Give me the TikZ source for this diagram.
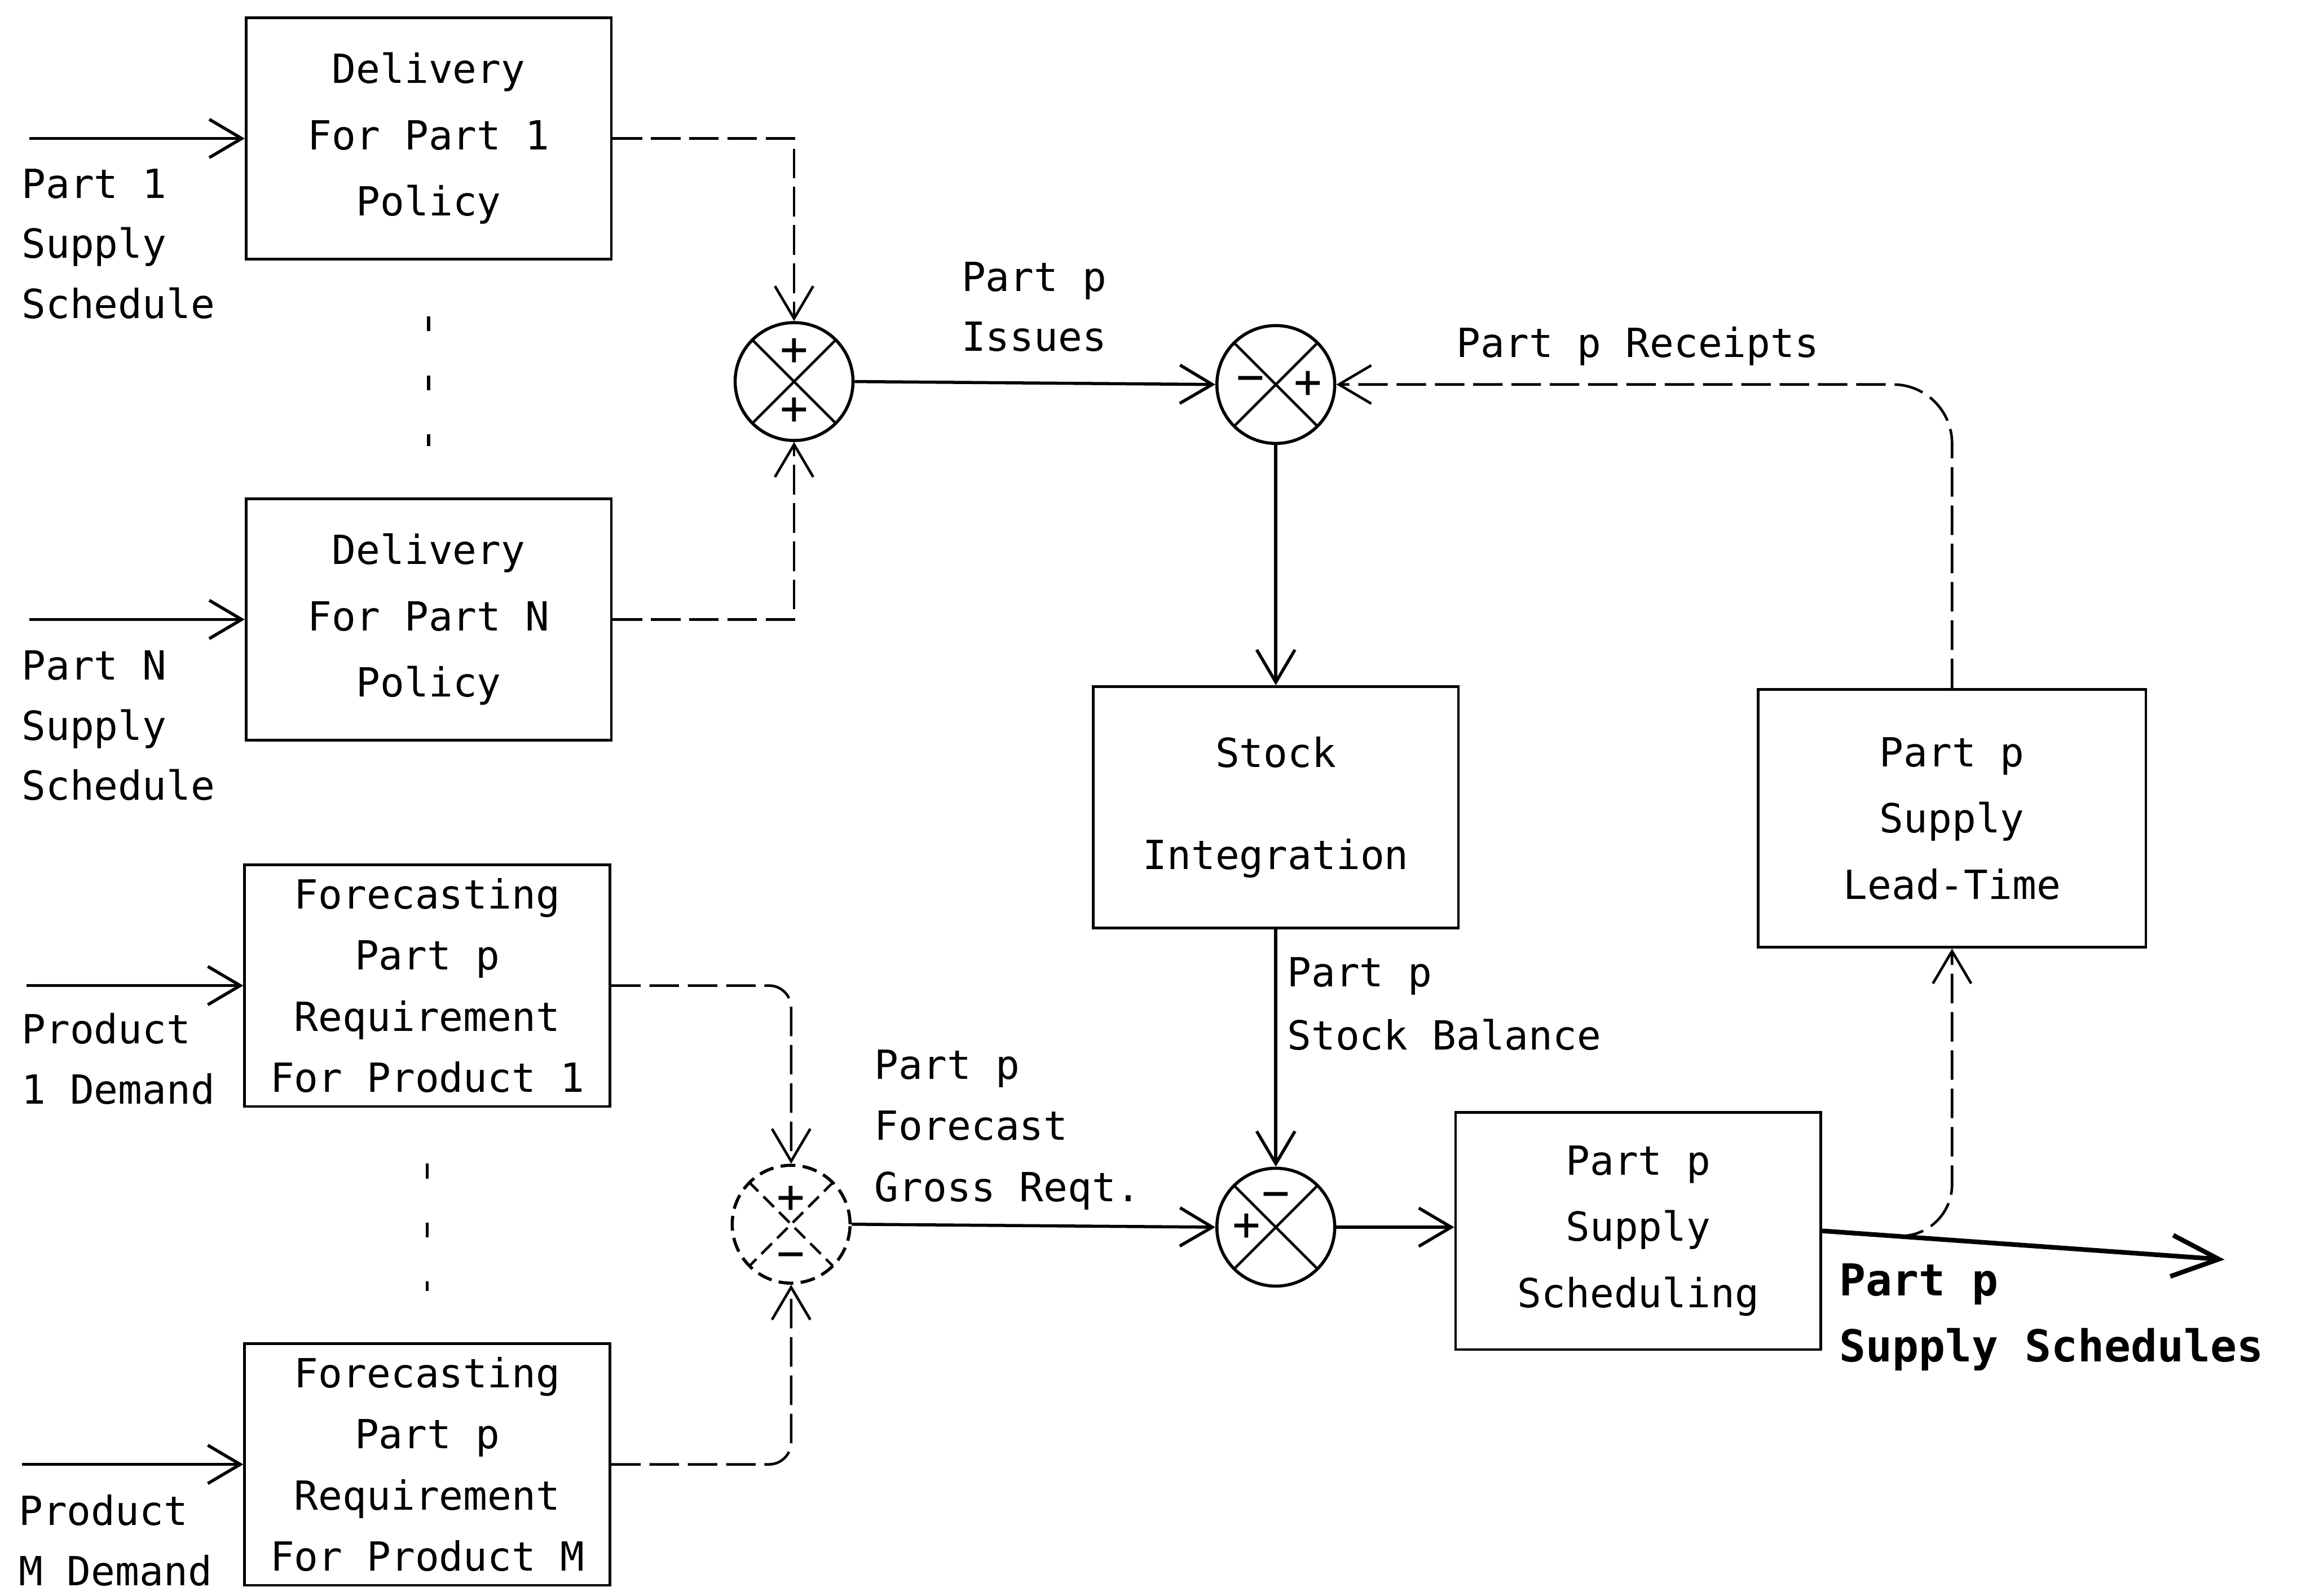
\documentclass[tikz,border=0pt]{standalone}
\usepackage{fontspec}
\setmainfont{DejaVu Sans Mono}
\usetikzlibrary{arrows.meta,positioning}

\tikzset{
  >={Straight Barb[length=2.2mm,width=2.6mm]},
  block/.style={draw, line width=0.5pt, minimum width=2.48cm, minimum height=1.64cm,
    inner sep=0pt, align=center, font=\fontsize{7.75}{12.8}\selectfont},
  sum/.style={draw, circle, line width=0.6pt, minimum size=0.8cm, inner sep=0pt,
    path picture={\draw[line width=0.5pt]
      (path picture bounding box.north west) -- (path picture bounding box.south east)
      (path picture bounding box.north east) -- (path picture bounding box.south west);}},
  sign/.style={inner sep=0pt, font=\fontsize{9}{9}\selectfont},
  lbl/.style={anchor=north west, inner sep=0pt, align=left, font=\fontsize{7.75}{11.6}\selectfont},
  flow/.style={->, line width=0.6pt},
  faint/.style={dash pattern=on 2mm off 0.6mm, line width=0.5pt},
  gap/.style={dash pattern=on 0.1cm off 0.3cm, line width=0.6pt, shorten <=0.38cm, shorten >=0.35cm}
}

\begin{document}
\begin{tikzpicture}
  \useasboundingbox (0,0) rectangle (15.68,-10.83);

  % blocks
  \node[block] (D1) at (2.91,-0.94) {Delivery\\For Part 1\\Policy};
  \node[block] (DN) at (2.91,-4.205) {Delivery\\For Part N\\Policy};
  \node[block, font=\fontsize{7.75}{11.8}\selectfont] (F1) at (2.90,-6.69) {Forecasting\\Part p\\Requirement\\For Product 1};
  \node[block, font=\fontsize{7.75}{11.8}\selectfont] (FM) at (2.90,-9.94) {Forecasting\\Part p\\Requirement\\For Product M};
  \node[block] (stock) at (8.66,-5.48) {Stock\\[6.9pt]Integration};
  \node[block, minimum height=1.61cm] (sched) at (11.12,-8.355) {Part p\\Supply\\Scheduling};
  \node[block, minimum width=2.63cm, minimum height=1.75cm] (lead) at (13.25,-5.555) {Part p\\Supply\\Lead-Time};

  % summing junctions
  \node[sum] (sum1) at (5.39,-2.59) {};
  \node[sum] (sum2) at (8.66,-2.61) {};
  \node[sum, dash pattern=on 1mm off 0.5mm] (sum3) at (5.37,-8.31) {};
  \node[sum] (sum4) at (8.66,-8.33) {};
  \node[sign] (s1a) at ([yshift=2mm]sum1.center) {+};
  \node[sign] (s1b) at ([yshift=-2mm]sum1.center) {+};
  \node[sign] (s2a) at ([xshift=-1.7mm]sum2.center) {−};
  \node[sign] (s2b) at ([xshift=2.2mm]sum2.center) {+};
  \node[sign] (s3a) at ([yshift=1.7mm]sum3.center) {+};
  \node[sign] (s3b) at ([yshift=-2.5mm]sum3.center) {−};
  \node[sign] (s4a) at ([yshift=1.8mm]sum4.center) {−};
  \node[sign] (s4b) at ([xshift=-2mm]sum4.center) {+};

  % inputs
  \coordinate (in1) at (0.20,-0.94);
  \coordinate (inN) at (0.20,-4.205);
  \coordinate (inP1) at (0.18,-6.69);
  \coordinate (inPM) at (0.15,-9.94);
  \draw[flow] (in1) -- (D1.west);
  \draw[flow] (inN) -- (DN.west);
  \draw[flow] (inP1) -- (F1.west);
  \draw[flow] (inPM) -- (FM.west);

  % block to junction
  \draw[flow, faint] (D1.east) -| (sum1.north);
  \draw[flow, faint] (DN.east) -| (sum1.south);
  \draw[flow, faint, rounded corners=0.15cm] (F1.east) -| (sum3.north);
  \draw[flow, faint, rounded corners=0.15cm] (FM.east) -| (sum3.south);
  \draw[gap] (D1.south) -- (DN.north);
  \draw[gap] (F1.south) -- (FM.north);

  \draw[flow] (sum1.east) -- (sum2.west);
  \draw[flow] (sum2.south) -- (stock.north);
  \draw[flow] (stock.south) -- (sum4.north);
  \draw[flow] (sum3.east) -- (sum4.west);
  \draw[flow] (sum4.east) -- (sum4.east -| sched.west);

  % output and feedback
  \coordinate (out) at (15.10,-8.55);
  \coordinate (br) at (12.86,-8.39);
  \draw[line width=0.9pt, -{Straight Barb[length=3.2mm,width=2.8mm]}] (sched.east) -- (out);
  \draw[flow, faint, rounded corners=0.35cm] (br) -| (lead.south);
  \draw[flow, faint, rounded corners=0.4cm] (lead.north) |- (sum2.east);

  % labels
  \node[lbl] (lab1) at (0.14,-1.14) {Part 1\\Supply\\Schedule};
  \node[lbl] (labN) at (0.14,-4.41) {Part N\\Supply\\Schedule};
  \node[lbl] (labP1) at (0.14,-6.87) {Product\\1 Demand};
  \node[lbl] (labPM) at (0.12,-10.14) {Product\\M Demand};
  \node[lbl] (labIss) at (6.52,-1.77) {Part p\\Issues};
  \node[lbl] (labRec) at (9.88,-2.21) {Part p Receipts};
  \node[lbl, font=\fontsize{7.75}{12.2}\selectfont] (labBal) at (8.73,-6.49) {Part p\\Stock Balance};
  \node[lbl, font=\fontsize{7.75}{11.8}\selectfont] (labFc) at (5.93,-7.12) {Part p\\Forecast\\Gross Reqt.};
  \node[lbl, font=\bfseries\fontsize{8.5}{12.8}\selectfont] (labOut) at (12.48,-8.57) {Part p\\Supply Schedules};
\end{tikzpicture}
\end{document}
